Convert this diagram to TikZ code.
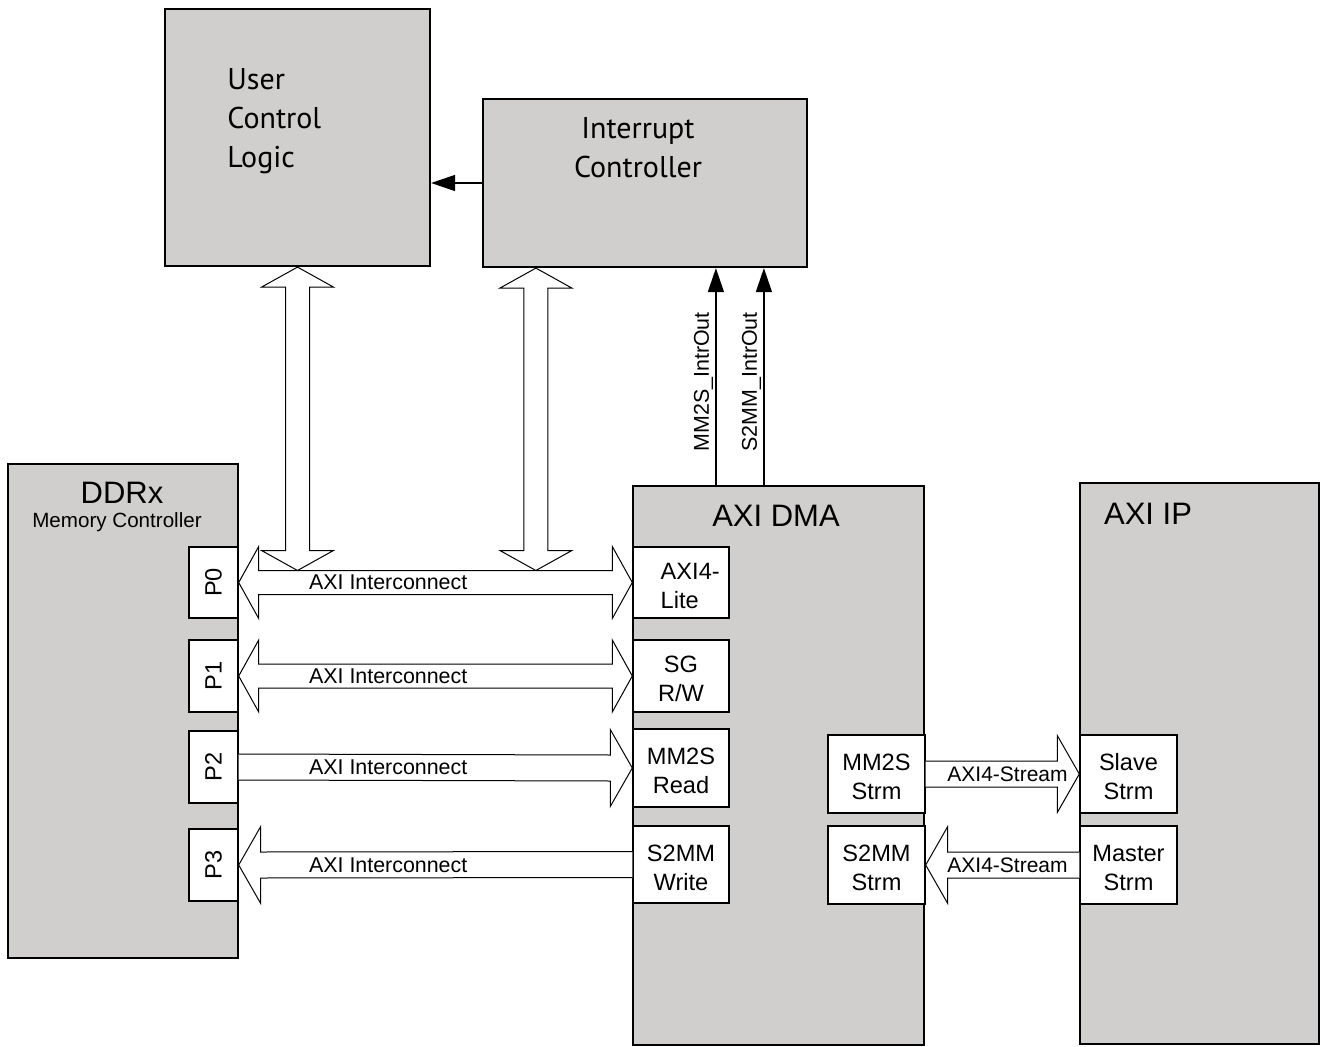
\documentclass[tikz,border=0pt]{standalone}
\usepackage{fontspec}
\setmainfont{Liberation Sans}
\newfontfamily\ptsans{PT Sans}
\usetikzlibrary{positioning,calc,fit,arrows.meta}
\definecolor{blkgray}{RGB}{208,207,206}
\tikzset{>={Triangle[length=12pt,width=8pt]}}
\newcommand*{\fsz}[2]{\fontsize{#1}{#2}\selectfont}
% wide block arrows
\newcommand*{\fatboth}[2]{\draw[fat] (#1) -- ++(20,-36) |- ($(#2)+(-20,-12)$) -- ++(0,-24) -- (#2) -- ++(-20,36) |- ($(#1)+(20,12)$) -- ++(0,24) -- cycle;}
\newcommand*{\fatvert}[2]{\draw[fat] (#1) -- ++(36,20) -- ++(-24,0) |- ($(#2)+(12,-20)$) -- ++(24,0) -- (#2) -- ++(-36,-20) -- ++(24,0) |- ($(#1)+(-12,20)$) -- ++(-24,0) -- cycle;}
\newcommand*{\fatright}[2]{\draw[fat] ($(#1)+(0,-13)$) -- ($(#2)+(-22,-13)$) -- ++(0,-25.5) -- (#2) -- ++(-22,38.5) -- ++(0,-25.5) -- ($(#1)+(0,13)$);}
\newcommand*{\fatleft}[2]{\draw[fat] ($(#2)+(0,-13)$) -- ($(#1)+(22,-13)$) -- ++(0,-25.5) -- (#1) -- ++(22,38.5) -- ++(0,-25.5) -- ($(#2)+(0,13)$);}

\begin{document}
\begin{tikzpicture}[x=0.5pt,y=-0.5pt,
  blk/.style={draw,line width=1.1pt,fill=blkgray,inner sep=0pt},
  port/.style={draw,line width=0.7pt,fill=white,inner sep=0pt},
  ptxt/.style={inner sep=0pt,align=center,font=\fsz{11.8}{14.5}},
  fat/.style={draw,line width=0.5pt,fill=white,line join=miter},
  sig/.style={->,line width=0.7pt},
  ttl/.style={inner sep=0pt,align=center}]
\useasboundingbox (0,0) rectangle (1320,1047);
% blocks
\node[blk,fit={(165,9) (430,266)}] (ucl) {};
\node[blk,fit={(483,99) (807,267)}] (ic) {};
\node[blk,fit={(8,464) (238,958)}] (ddr) {};
\node[blk,fit={(633,486) (924,1045)}] (dma) {};
\node[blk,fit={(1080,483) (1319,1044)}] (ip) {};
\node[ttl,align=left,anchor=north west,font=\ptsans\fsz{15}{19.5}] (uclt) at (227,68) {User\\Control\\Logic};
\node[ttl,anchor=north,font=\ptsans\fsz{15}{19.5}] (ict) at (638,117) {Interrupt\\Controller};
\node[ttl,anchor=base,font=\fsz{15.5}{18}] (ddrt) at (122,503) {DDRx};
\node[ttl,anchor=base,font=\fsz{10.3}{12}] (ddrs) at (117,527) {Memory Controller};
\node[ttl,anchor=base,font=\fsz{15.5}{18}] (dmat) at (776,526) {AXI DMA};
\node[ttl,anchor=base,font=\fsz{15.5}{18}] (ipt) at (1148,524) {AXI IP};
% memory ports
\foreach \n/\ya/\yb in {0/547/618,1/640/712,2/731/803,3/829/901}{
  \node[port,fit={(189,\ya) (238,\yb)}] (P\n) {};
  \node[rotate=90,inner sep=0pt,font=\fsz{11.8}{14.5}] (lbl\n) at (P\n) {P\n};
}
% dma and stream ports
\foreach \nm/\xa/\ya/\xb/\yb/\txt in {sg/633/640/729/712/{SG\\R/W},
    mmr/633/729/729/807/{MM2S\\Read},smw/633/826/729/903/{S2MM\\Write},
    mms/828/735/925/813/{MM2S\\Strm},sms/828/826/925/904/{S2MM\\Strm},
    slv/1080/735/1177/813/{Slave\\Strm},mst/1080/826/1177/904/{Master\\Strm}}{
  \node[port,fit={(\xa,\ya) (\xb,\yb)}] (\nm) {};
  \node[ptxt] (\nm-t) at ([yshift=-1.5pt]\nm.center) {\txt};
}
\node[port,fit={(633,547) (729,618)}] (lite) {};
\node[ptxt,align=left,anchor=west] (lite-t) at ([xshift=14pt,yshift=-1.5pt]lite.west) {AXI4-\\Lite};
% interconnect
\coordinate (ub) at ($(ucl.south |- P0.east)+(0,-12)$);
\coordinate (it) at ($(ic.south west)+(54,0)$);
\coordinate (ib) at ($(it |- P0.east)+(0,-12)$);
\fatvert{ucl.south}{ub}
\fatvert{it}{ib}
\fatboth{P0.east}{lite.west}
\fatboth{P1.east}{sg.west}
\fatright{P2.east}{mmr.west}
\fatleft{P3.east}{smw.west}
\fatright{mms.east}{slv.west}
\fatleft{sms.east}{mst.west}
\foreach \n in {0,...,3}
  \node[anchor=west,inner sep=0pt,font=\fsz{10.7}{12}] (axi\n) at ([xshift=35pt]P\n.east) {AXI Interconnect};
\node[inner sep=0pt,font=\fsz{10.5}{12}] (st0) at ([xshift=2.5pt]$(mms.east)!0.5!(slv.west)$) {AXI4-Stream};
\node[inner sep=0pt,font=\fsz{10.5}{12}] (st1) at ([xshift=2.5pt]$(sms.east)!0.5!(mst.west)$) {AXI4-Stream};
% interrupts
\coordinate (mi) at ($(dma.north west)+(84,0)$);
\coordinate (si) at ($(dma.north west)+(132,0)$);
\draw[sig] (mi) -- (mi |- ic.south) node[pos=0.475,rotate=90,anchor=south,inner sep=1pt,font=\fsz{10.7}{12}] {MM2S\_IntrOut};
\draw[sig] (si) -- (si |- ic.south) node[pos=0.475,rotate=90,anchor=south,inner sep=1pt,font=\fsz{10.7}{12}] {S2MM\_IntrOut};
\draw[sig] (ic.west) -- (ucl.east |- ic.west);
\end{tikzpicture}
\end{document}
